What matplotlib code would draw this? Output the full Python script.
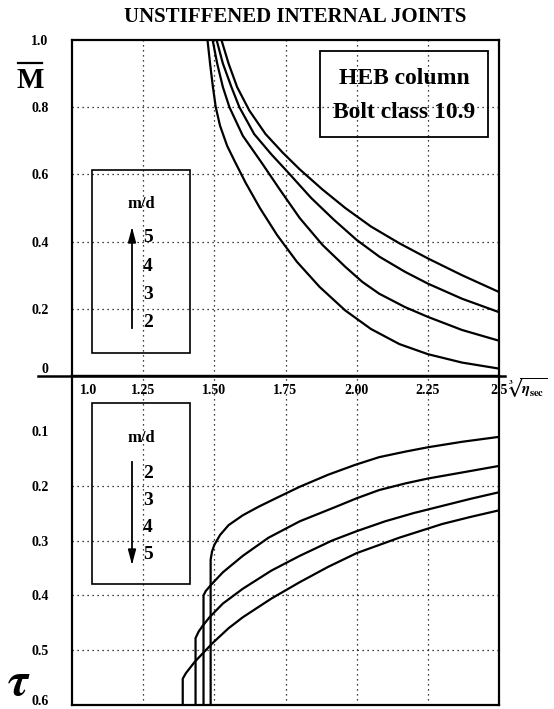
import numpy as np
import matplotlib
matplotlib.use("Agg")
import matplotlib.pyplot as plt
import matplotlib.transforms as mtransforms

plt.rcParams['font.family'] = ['Liberation Serif', 'DejaVu Serif']
plt.rcParams['font.weight'] = 'bold'
plt.rcParams['mathtext.fontset'] = 'stix'

# ---- data ----
md_values = [2, 3, 4, 5]
x_ticks = [1.0, 1.25, 1.50, 1.75, 2.00, 2.25, 2.5]
x_ticklabels = ["1.0", "1.25", "1.50", "1.75", "2.00", "2.25", "2.5"]
m_ticks = [0, 0.2, 0.4, 0.6, 0.8, 1.0]
m_ticklabels = ["0", "0.2", "0.4", "0.6", "0.8", "1.0"]
t_ticks = [0.1, 0.2, 0.3, 0.4, 0.5, 0.6]
t_ticklabels = ["0.1", "0.2", "0.3", "0.4", "0.5", "0.6"]

# top panel: M-bar vs cube root of eta_sec
m_x = {
    2: [1.476, 1.485, 1.495, 1.505, 1.52, 1.545, 1.571, 1.61, 1.66, 1.72, 1.79,
        1.87, 1.96, 2.05, 2.15, 2.25, 2.37, 2.50],
    3: [1.494, 1.51, 1.53, 1.553, 1.60, 1.666, 1.73, 1.80, 1.88, 1.96, 2.02,
        2.079, 2.17, 2.25, 2.37, 2.50],
    4: [1.508, 1.53, 1.56, 1.588, 1.64, 1.70, 1.76, 1.84, 1.92, 2.00, 2.08,
        2.17, 2.25, 2.37, 2.50],
    5: [1.525, 1.55, 1.58, 1.623, 1.68, 1.74, 1.80, 1.88, 1.96, 2.05, 2.15,
        2.25, 2.37, 2.50],
}
m_y = {
    2: [1.00, 0.93, 0.86, 0.80, 0.745, 0.685, 0.64, 0.575, 0.50, 0.42, 0.34,
        0.265, 0.195, 0.14, 0.095, 0.065, 0.04, 0.022],
    3: [1.00, 0.93, 0.86, 0.80, 0.715, 0.635, 0.555, 0.47, 0.39, 0.325, 0.28,
        0.245, 0.205, 0.176, 0.137, 0.105],
    4: [1.00, 0.93, 0.86, 0.80, 0.72, 0.66, 0.605, 0.53, 0.465, 0.405, 0.355,
        0.31, 0.275, 0.23, 0.19],
    5: [1.00, 0.93, 0.86, 0.79, 0.72, 0.665, 0.615, 0.555, 0.50, 0.445, 0.395,
        0.35, 0.30, 0.25],
}

# bottom panel: tau vs cube root of eta_sec (vertical rise then curve)
t_x = {
    2: [1.487, 1.487, 1.492, 1.50, 1.52, 1.55, 1.60, 1.657, 1.72, 1.80, 1.90,
        1.995, 2.079, 2.17, 2.25, 2.37, 2.50],
    3: [1.462, 1.462, 1.47, 1.49, 1.53, 1.60, 1.69, 1.80, 1.92, 2.00, 2.079,
        2.17, 2.25, 2.37, 2.50],
    4: [1.434, 1.434, 1.445, 1.46, 1.483, 1.53, 1.60, 1.70, 1.80, 1.914, 2.00,
        2.10, 2.20, 2.30, 2.40, 2.50],
    5: [1.389, 1.389, 1.40, 1.43, 1.459, 1.494, 1.55, 1.60, 1.70, 1.80, 1.90,
        2.00, 2.149, 2.30, 2.40, 2.50],
}
t_y = {
    2: [0.60, 0.335, 0.32, 0.308, 0.29, 0.272, 0.254, 0.238, 0.222, 0.202, 0.18,
        0.162, 0.148, 0.138, 0.13, 0.12, 0.111],
    3: [0.60, 0.40, 0.392, 0.38, 0.358, 0.328, 0.295, 0.265, 0.24, 0.223, 0.208,
        0.196, 0.187, 0.176, 0.164],
    4: [0.60, 0.478, 0.466, 0.455, 0.44, 0.415, 0.388, 0.355, 0.328, 0.30, 0.283,
        0.265, 0.25, 0.237, 0.224, 0.212],
    5: [0.60, 0.552, 0.542, 0.522, 0.506, 0.487, 0.46, 0.44, 0.406, 0.376, 0.348,
        0.323, 0.295, 0.27, 0.257, 0.245],
}

W, H = 554.0, 709.0
fig = plt.figure(figsize=(W / 100, H / 100), dpi=100)
L, R = 72 / W, 499 / W
top_px, mid_px, bot_px = 40, 376, 705
ax1 = fig.add_axes([L, 1 - mid_px / H, R - L, (mid_px - top_px) / H])
ax2 = fig.add_axes([L, 1 - bot_px / H, R - L, (bot_px - mid_px) / H])

xmin, xmax = 1.0, 2.5
grid_kw = dict(color='black', linestyle=(0, (1, 3)), linewidth=0.9)

for ax in (ax1, ax2):
    ax.set_xlim(xmin, xmax)
    ax.set_xticks([])
    for s in ax.spines.values():
        s.set_linewidth(1.6)
    ax.tick_params(length=0, labelsize=10, pad=17)
    for xv in x_ticks[1:-1]:
        ax.axvline(xv, **grid_kw, zorder=0)

ax1.set_ylim(0, 1.0)
ax1.set_yticks(m_ticks)
ax1.set_yticklabels(m_ticklabels)
for yv in m_ticks[1:-1]:
    ax1.axhline(yv, **grid_kw, zorder=0)
for md in md_values:
    ax1.plot(m_x[md], m_y[md], color='black', lw=1.6)
# lift the "0" label above the middle axis line
for lab in ax1.get_yticklabels():
    if lab.get_text() == "0":
        lab.set_va('bottom')

ax2.set_ylim(0.6, 0.0)
ax2.set_yticks(t_ticks)
ax2.set_yticklabels(t_ticklabels)
for lab in ax2.get_yticklabels():
    if lab.get_text() == "0.6":
        lab.set_va('baseline')
for yv in t_ticks[1:-1]:
    ax2.axhline(yv, **grid_kw, zorder=0)
for md in md_values:
    ax2.plot(t_x[md], t_y[md], color='black', lw=1.6)

# x tick labels just under the middle axis line
btr = mtransforms.blended_transform_factory(ax2.transData, fig.transFigure)
for xv, lab in zip(x_ticks, x_ticklabels):
    xo = xv + (0.058 if xv == 1.0 else 0.0)
    ax2.text(xo, 1 - 391 / H, lab, transform=btr, ha='center', va='center',
             fontsize=10)

# heavy horizontal axis line between panels
fig.add_artist(plt.Line2D([38 / W, 505 / W], [1 - mid_px / H] * 2,
                          color='black', lw=1.8))

# title and axis labels
fig.text(295 / W, 1 - 17 / H, "UNSTIFFENED INTERNAL JOINTS", ha='center',
         va='center', fontsize=15, fontweight='bold')
fig.text(30 / W, 1 - 80 / H, "M", ha='center', va='center', fontsize=21,
         fontweight='bold')
fig.add_artist(plt.Line2D([18 / W, 42 / W], [1 - 63 / H] * 2, color='black', lw=1.6))
fig.text(19 / W, 1 - 684 / H, r"$\tau$", ha='center', va='center', fontsize=34)
fig.text(527 / W, 1 - 388 / H, r"$\sqrt[3]{\eta_{\mathrm{sec}}}$", ha='center',
         va='center', fontsize=11)

# info box
def px_box(x0, y0, x1, y1, lw=1.2):
    r = plt.Rectangle((x0 / W, 1 - y1 / H), (x1 - x0) / W, (y1 - y0) / H,
                      transform=fig.transFigure, fill=False, ec='black', lw=lw)
    fig.add_artist(r)

px_box(320, 51, 488, 137, lw=1.3)
fig.text(404 / W, 1 - 78 / H, "HEB column", ha='center', va='center', fontsize=17,
         fontweight='bold')
fig.text(404 / W, 1 - 112 / H, "Bolt class 10.9", ha='center', va='center',
         fontsize=17, fontweight='bold')

# m/d legend boxes
def arrow(x, y_from, y_to):
    fig.add_artist(plt.Line2D([x / W, x / W], [1 - y_from / H, 1 - y_to / H],
                              color='black', lw=1.3))
    d = 1 if y_to < y_from else -1
    tri = plt.Polygon([[x / W, 1 - y_to / H],
                       [(x - 3.5) / W, 1 - (y_to + d * 13) / H],
                       [(x + 3.5) / W, 1 - (y_to + d * 13) / H]],
                      closed=True, transform=fig.transFigure, fc='black', ec='black')
    fig.add_artist(tri)

px_box(92, 170, 190, 353)
fig.text(141 / W, 1 - 204 / H, "m/d", ha='center', va='center', fontsize=12)
arrow(132, 328, 230)
for i, md in enumerate([5, 4, 3, 2]):
    fig.text(143 / W, 1 - (238 + i * 28.3) / H, str(md), ha='left', va='center',
             fontsize=14)

px_box(92, 403, 190, 584)
fig.text(141 / W, 1 - 438 / H, "m/d", ha='center', va='center', fontsize=12)
arrow(132, 462, 562)
for i, md in enumerate([2, 3, 4, 5]):
    fig.text(143 / W, 1 - (473 + i * 27.3) / H, str(md), ha='left', va='center',
             fontsize=14)

fig.savefig("out.png", dpi=100)
